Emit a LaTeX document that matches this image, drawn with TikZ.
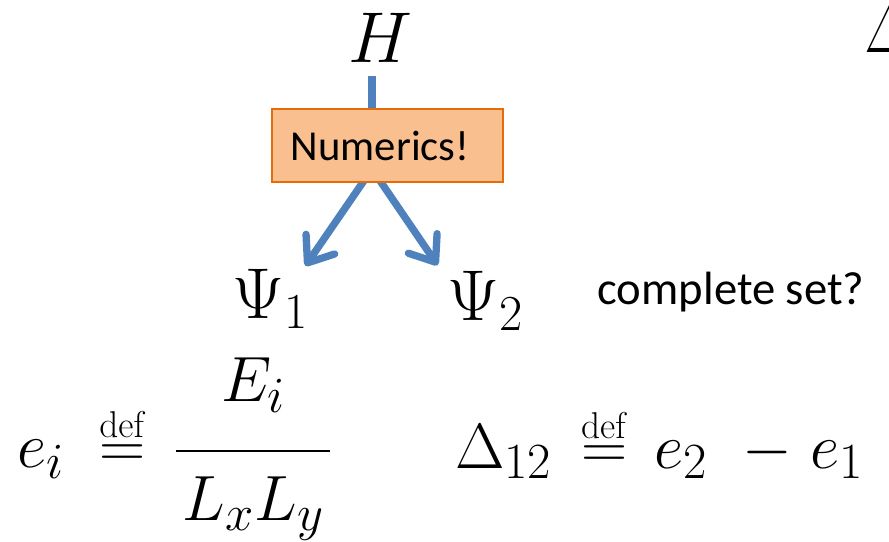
\RequirePackage{fix-cm}
\documentclass[tikz,border=0pt]{standalone}
\usepackage{amsmath}
\usepackage[no-math]{fontspec}
\newfontfamily\calibri{Carlito}
\usetikzlibrary{arrows.meta,positioning}
\DeclareMathSizes{48}{48}{38}{28}
\definecolor{flowblue}{HTML}{4F81BD}
\definecolor{peachfill}{HTML}{F9BF8F}
\definecolor{peachline}{HTML}{E46C0A}
\newcommand{\defeq}{\overset{\scriptscriptstyle\mathrm{def}}{=}}

\begin{document}
\begin{tikzpicture}[x=0.75pt,y=-0.75pt,
  bigmath/.style={inner sep=0pt, font=\fontsize{54}{64}\selectfont},
  eqmath/.style={inner sep=0pt, font=\fontsize{48}{58}\selectfont},
  word/.style={inner sep=0pt, font=\calibri\fontsize{35}{42}\selectfont},
  numbox/.style={
    rectangle, draw=peachline, fill=peachfill, line width=1.4pt,
    minimum width=173pt, minimum height=55pt, inner sep=0pt,
    font=\calibri\fontsize{32}{38}\selectfont
  },
  stem/.style={draw=flowblue, line width=5.5pt},
  flow/.style={stem, -{Straight Barb[length=17pt,width=26pt,round]}}
]
\useasboundingbox (0,0) rectangle (889,542);
\clip (0,0) rectangle (889,542);

\node[bigmath] (ham) at (380,38) {$H$};
\coordinate (fork) at (372,169);

\node[bigmath, anchor=base] (psi1) at (270,318) {$\Psi_1$};
\node[bigmath, anchor=base] (psi2) at (485,320) {$\Psi_2$};
\node[word, anchor=base] (cset) at (731,304) {complete set?};

\node[bigmath, anchor=base west] (cutdelta) at (864,53) {$\Delta$};

% arrows behind the box
\draw[stem, shorten <=10pt] (ham.south -| fork) -- (fork);
\draw[flow] (fork) -- ([xshift=-2pt,yshift=2pt]psi1.north east);
\draw[flow] (fork) -- ([xshift=-7pt,yshift=4pt]psi2.north west);

\node[numbox] (num) at (387.5,145.5) {Numerics!\hspace*{11pt}};

% definitions
\node[eqmath, anchor=base west] (edef) at (17,467)
  {$e_i \;\defeq\, \dfrac{E_i\rule[-34pt]{0pt}{0pt}}{\hspace{5pt}\rule{0pt}{49pt}L_xL_y\hspace{5pt}}$};
\node[eqmath, anchor=base west] (gapdef) at (455,468)
  {$\Delta_{12}\hspace{22pt}{\defeq}\hspace{20pt}e_2\hspace{26pt}{-}\hspace{14pt}e_1$};
\end{tikzpicture}
\end{document}
